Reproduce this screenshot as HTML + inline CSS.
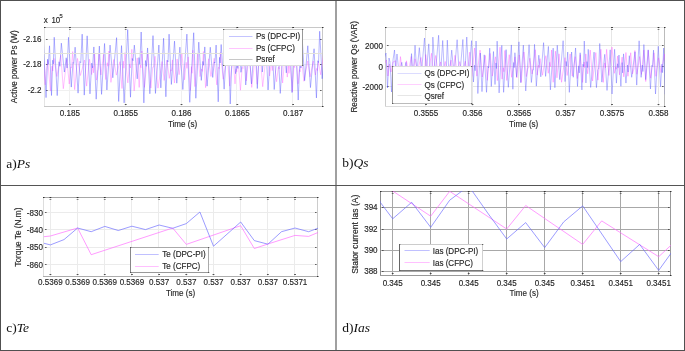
<!DOCTYPE html>
<html><head><meta charset="utf-8"><style>
html,body{margin:0;padding:0;background:#fff;}
body{width:685px;height:351px;overflow:hidden;}
svg{display:block;will-change:transform;}
text{font-family:"Liberation Sans",sans-serif;fill:#262626;stroke:#262626;stroke-width:0.15px;}
.cap{font-family:"Liberation Serif",serif;font-size:13.5px;fill:#111;stroke:none;}
</style></head><body>
<svg width="685" height="351" viewBox="0 0 685 351">
<rect x="0" y="0" width="685" height="351" fill="#fff"/>
<rect x="44" y="39" width="278" height="1" fill="#f0f0f0"/>
<rect x="44" y="64" width="278" height="1" fill="#f0f0f0"/>
<rect x="44" y="90" width="278" height="1" fill="#f0f0f0"/>
<rect x="69" y="27" width="1" height="79" fill="#f0f0f0"/>
<rect x="125" y="27" width="1" height="79" fill="#f0f0f0"/>
<rect x="181" y="27" width="1" height="79" fill="#f0f0f0"/>
<rect x="236" y="27" width="1" height="79" fill="#f0f0f0"/>
<rect x="292" y="27" width="1" height="79" fill="#f0f0f0"/>
<rect x="44" y="27" width="1" height="80" fill="#e4e4e4"/>
<rect x="322" y="27" width="1" height="80" fill="#c8c8c8"/>
<rect x="44" y="27" width="279" height="1" fill="#c8c8c8"/>
<rect x="44" y="106" width="279" height="1" fill="#c8c8c8"/>
<rect x="322" y="27" width="1.5" height="1" fill="#333"/>
<rect x="322" y="106" width="1.5" height="1" fill="#333"/>
<rect x="44" y="27" width="1.5" height="1" fill="#333"/>
<rect x="69.00" y="27" width="1.8" height="1" fill="#333"/>
<rect x="69.00" y="29" width="1.8" height="1" fill="#333" fill-opacity="0.6"/>
<rect x="69.00" y="104" width="1.8" height="1" fill="#333" fill-opacity="0.85"/>
<rect x="124.80" y="27" width="1.8" height="1" fill="#333"/>
<rect x="124.80" y="29" width="1.8" height="1" fill="#333" fill-opacity="0.6"/>
<rect x="124.80" y="104" width="1.8" height="1" fill="#333" fill-opacity="0.85"/>
<rect x="180.60" y="27" width="1.8" height="1" fill="#333"/>
<rect x="180.60" y="29" width="1.8" height="1" fill="#333" fill-opacity="0.6"/>
<rect x="180.60" y="104" width="1.8" height="1" fill="#333" fill-opacity="0.85"/>
<rect x="236.40" y="27" width="1.8" height="1" fill="#333"/>
<rect x="236.40" y="29" width="1.8" height="1" fill="#333" fill-opacity="0.6"/>
<rect x="236.40" y="104" width="1.8" height="1" fill="#333" fill-opacity="0.85"/>
<rect x="292.20" y="27" width="1.8" height="1" fill="#333"/>
<rect x="292.20" y="29" width="1.8" height="1" fill="#333" fill-opacity="0.6"/>
<rect x="292.20" y="104" width="1.8" height="1" fill="#333" fill-opacity="0.85"/>
<rect x="46" y="39" width="1.6" height="1" fill="#333" fill-opacity="0.75"/>
<rect x="320" y="39" width="1.6" height="1" fill="#333" fill-opacity="0.75"/>
<rect x="46" y="64" width="1.6" height="1" fill="#333" fill-opacity="0.75"/>
<rect x="320" y="64" width="1.6" height="1" fill="#333" fill-opacity="0.75"/>
<rect x="46" y="90" width="1.6" height="1" fill="#333" fill-opacity="0.75"/>
<rect x="320" y="90" width="1.6" height="1" fill="#333" fill-opacity="0.75"/>
<clipPath id="ca"><rect x="44" y="27" width="279" height="80"/></clipPath>
<polyline points="43.24,55.51 45.14,84.83 46.31,70.28 46.85,66.53 47.75,60.31 50.38,91.07 52.01,66.11 52.76,70.97 54.01,58.42 56.85,76.48 60.76,55.34 63.30,88.70 66.81,59.34 69.26,83.97 70.78,66.92 71.49,67.76 72.66,51.57 74.67,89.61 77.46,58.40 80.43,75.50 84.53,60.08 86.64,86.12 89.55,59.18 91.66,74.60 92.96,65.69 93.57,72.80 94.57,52.93 96.45,80.11 97.61,70.96 98.15,69.45 99.04,53.02 100.94,74.98 103.57,54.36 105.82,79.56 107.21,62.73 107.86,66.18 108.93,51.09 110.95,82.39 113.73,59.46 116.33,75.11 119.92,61.65 122.01,88.49 123.31,61.18 123.91,68.20 124.91,52.55 127.82,82.88 129.63,64.15 130.46,67.94 131.85,49.28 134.13,90.94 137.28,57.91 139.19,87.44 140.37,65.04 140.91,67.84 141.82,51.01 144.36,87.35 147.86,53.00 150.86,88.06 152.73,67.26 153.58,67.08 155.02,56.24 157.98,88.15 162.08,61.54 164.14,80.47 166.99,60.13 169.29,78.40 170.71,69.70 171.37,70.77 172.47,59.92 174.42,82.97 177.12,58.99 179.12,74.70 181.89,53.72 184.54,79.85 186.19,62.31 186.95,68.36 188.21,56.86 190.21,90.43 191.45,66.62 192.02,73.23 192.98,50.21 194.92,86.60 197.60,53.12 200.03,76.59 201.54,69.02 202.24,71.39 203.40,51.54 205.59,87.69 208.61,58.76 210.95,76.48 214.19,58.28 216.79,84.90 218.40,67.23 219.15,68.68 220.39,52.45 223.24,79.23 227.17,54.81 229.67,86.12 231.22,70.79 231.93,66.72 233.12,57.78 235.02,83.88 236.19,68.99 236.73,71.88 237.63,53.72 240.43,90.23 242.16,67.45 242.96,68.55 244.29,52.25 246.34,80.93 249.16,53.02 251.72,87.40 255.24,56.18 257.18,84.18 259.85,51.41 262.70,86.70 266.64,50.54 269.59,75.95 271.41,61.91 272.25,70.64 273.65,56.09 276.57,81.71 278.37,67.17 279.20,69.10 280.59,55.13 282.62,82.99 285.41,50.79 287.28,77.08 288.44,65.60 288.98,73.31 289.87,61.42 292.39,91.84 293.95,65.19 294.68,67.56 295.88,52.72 298.09,83.75 299.46,69.67 300.10,71.75 301.15,56.33 303.92,81.30 307.75,60.97 310.06,76.86 313.25,61.07 315.38,74.96 316.70,68.39 317.30,70.57 318.32,61.62 320.74,74.81 324.08,50.11 327.03,80.57" fill="none" stroke="#ff55ff" stroke-width="0.6" stroke-opacity="0.6" stroke-linejoin="round" clip-path="url(#ca)"/>
<polyline points="43.50,44.26 46.04,97.64 47.61,59.20 48.33,64.31 49.54,45.81 51.51,95.51 52.72,60.20 53.29,63.88 54.22,37.26 57.21,95.61 59.06,61.78 59.92,66.27 61.34,43.15 64.36,72.05 66.22,57.77 67.08,68.03 68.52,37.30 71.29,87.08 73.00,62.48 73.79,63.37 75.11,47.18 78.07,93.14 79.90,61.56 80.75,62.68 82.16,34.16 84.25,95.11 87.15,35.85 89.97,93.85 91.72,63.10 92.53,67.91 93.87,46.95 96.18,99.19 99.37,46.07 101.55,94.35 104.56,43.49 106.88,89.98 110.07,45.07 112.81,77.77 116.59,37.66 118.67,101.47 121.53,45.62 124.12,102.86 127.69,29.59 130.48,97.19 132.21,58.43 133.01,60.76 134.33,45.13 137.21,78.84 138.99,57.56 139.81,64.44 141.17,32.01 143.86,102.89 145.53,60.54 146.30,66.35 147.58,47.96 149.85,93.76 153.00,35.61 155.46,93.41 158.86,45.04 160.84,87.85 163.58,38.28 165.88,96.77 167.31,60.33 167.97,61.85 169.07,34.17 171.36,84.44 174.52,41.14 176.77,83.16 179.88,47.13 182.83,89.50 186.90,34.12 189.76,102.31 193.69,32.74 195.83,98.24 198.78,42.15 201.30,80.38 202.87,61.42 203.59,65.24 204.79,46.91 207.09,86.16 210.27,47.24 212.72,77.41 214.24,61.98 214.94,63.00 216.11,45.06 218.23,101.82 219.54,57.36 220.15,63.06 221.16,44.50 224.13,89.16 225.97,58.98 226.82,66.01 228.23,31.31 230.23,103.99 233.00,31.38 235.54,73.70 237.11,63.21 237.84,68.44 239.05,38.23 240.96,72.29 242.14,64.17 242.68,62.13 243.59,35.62 245.74,84.97 248.71,42.83 251.47,83.90 255.28,33.32 257.30,88.52 258.55,64.47 259.13,65.08 260.09,29.70 262.33,72.04 265.43,35.28 268.06,89.95 271.70,35.33 274.21,89.51 277.68,42.52 280.26,93.42 283.82,39.40 286.30,72.86 289.72,36.20 292.03,92.59 293.45,62.63 294.11,60.70 295.21,31.67 298.21,100.04 300.06,55.38 300.92,68.05 302.35,40.98 304.64,80.65 307.81,45.77 310.44,87.59 314.07,48.75 316.43,97.95 317.89,60.75 318.56,62.52 319.68,31.27 322.17,78.79 323.71,61.39 324.42,68.12 325.60,31.35 328.19,76.31" fill="none" stroke="#5555ff" stroke-width="0.6" stroke-opacity="0.72" stroke-linejoin="round" clip-path="url(#ca)"/>
<rect x="44" y="53" width="278" height="1" fill="#e2e2da"/>
<text transform="translate(41.5 41.8) scale(0.958 1)" text-anchor="end" font-size="8.4" >-2.16</text>
<text transform="translate(41.5 67.39999999999999) scale(0.958 1)" text-anchor="end" font-size="8.4" >-2.18</text>
<text transform="translate(41.5 93.1) scale(0.958 1)" text-anchor="end" font-size="8.4" >-2.2</text>
<text transform="translate(69.9 116.3) scale(0.958 1)" text-anchor="middle" font-size="8.4" >0.185</text>
<text transform="translate(125.7 116.3) scale(0.958 1)" text-anchor="middle" font-size="8.4" >0.1855</text>
<text transform="translate(181.5 116.3) scale(0.958 1)" text-anchor="middle" font-size="8.4" >0.186</text>
<text transform="translate(237.29999999999998 116.3) scale(0.958 1)" text-anchor="middle" font-size="8.4" >0.1865</text>
<text transform="translate(293.1 116.3) scale(0.958 1)" text-anchor="middle" font-size="8.4" >0.187</text>
<text transform="translate(182.5 126.5) scale(0.958 1)" text-anchor="middle" font-size="8.4" >Time (s)</text>
<text transform="translate(17 66.8) rotate(-90) scale(0.958 1)" text-anchor="middle" font-size="8.4">Active power Ps (W)</text>
<text transform="translate(43.8 23) scale(0.958 1)" text-anchor="start" font-size="8.4" >x</text>
<text transform="translate(51.4 23) scale(0.958 1)" text-anchor="start" font-size="8.2" >10</text>
<text transform="translate(59.6 17.6) scale(0.958 1)" text-anchor="start" font-size="6" >5</text>
<rect x="223" y="29" width="80" height="37" fill="#fff"/>
<rect x="223" y="29" width="1" height="37" fill="#e0e0e0"/>
<rect x="302" y="29" width="1" height="37" fill="#999999"/>
<rect x="223" y="29" width="80" height="1" fill="#cccccc"/>
<rect x="223" y="65" width="80" height="1" fill="#dddddd"/>
<rect x="223" y="29" width="1.3" height="1" fill="#444" fill-opacity="0.8"/>
<rect x="302" y="29" width="1.3" height="1" fill="#444" fill-opacity="0.8"/>
<rect x="223" y="65" width="1.3" height="1" fill="#444" fill-opacity="0.8"/>
<rect x="302" y="65" width="1.3" height="1" fill="#444" fill-opacity="0.8"/>
<line x1="229" y1="36.5" x2="252.5" y2="36.5" stroke="#c4c4ff" stroke-width="1"/>
<text transform="translate(256 39.3) scale(0.958 1)" text-anchor="start" font-size="8.4" >Ps (DPC-PI)</text>
<line x1="229" y1="48.5" x2="252.5" y2="48.5" stroke="#ffc4ff" stroke-width="1"/>
<text transform="translate(256 50.8) scale(0.958 1)" text-anchor="start" font-size="8.4" >Ps (CFPC)</text>
<line x1="229" y1="59.5" x2="252.5" y2="59.5" stroke="#c8c8c8" stroke-width="1"/>
<text transform="translate(256 62.3) scale(0.958 1)" text-anchor="start" font-size="8.4" >Psref</text>
<rect x="385" y="45" width="279" height="1" fill="#e6e6e6"/>
<rect x="385" y="66" width="279" height="1" fill="#e6e6e6"/>
<rect x="385" y="86" width="279" height="1" fill="#e6e6e6"/>
<rect x="425" y="27" width="1" height="79" fill="#e6e6e6"/>
<rect x="472" y="27" width="1" height="79" fill="#e6e6e6"/>
<rect x="518" y="27" width="1" height="79" fill="#e6e6e6"/>
<rect x="565" y="27" width="1" height="79" fill="#e6e6e6"/>
<rect x="611" y="27" width="1" height="79" fill="#e6e6e6"/>
<rect x="658" y="27" width="1" height="79" fill="#e6e6e6"/>
<rect x="385" y="27" width="1" height="80" fill="#cccccc"/>
<rect x="664" y="27" width="1" height="80" fill="#bbbbbb"/>
<rect x="385" y="27" width="280" height="1" fill="#e4e4e4"/>
<rect x="385" y="106" width="280" height="1" fill="#dcdcdc"/>
<rect x="664" y="27" width="1.5" height="1" fill="#333"/>
<rect x="664" y="106" width="1.5" height="1" fill="#333"/>
<rect x="385" y="27" width="1.5" height="1" fill="#333"/>
<rect x="425.10" y="27" width="1.8" height="1" fill="#333"/>
<rect x="425.10" y="29" width="1.8" height="1" fill="#333" fill-opacity="0.6"/>
<rect x="425.10" y="104" width="1.8" height="1" fill="#333" fill-opacity="0.85"/>
<rect x="471.60" y="27" width="1.8" height="1" fill="#333"/>
<rect x="471.60" y="29" width="1.8" height="1" fill="#333" fill-opacity="0.6"/>
<rect x="471.60" y="104" width="1.8" height="1" fill="#333" fill-opacity="0.85"/>
<rect x="518.10" y="27" width="1.8" height="1" fill="#333"/>
<rect x="518.10" y="29" width="1.8" height="1" fill="#333" fill-opacity="0.6"/>
<rect x="518.10" y="104" width="1.8" height="1" fill="#333" fill-opacity="0.85"/>
<rect x="564.60" y="27" width="1.8" height="1" fill="#333"/>
<rect x="564.60" y="29" width="1.8" height="1" fill="#333" fill-opacity="0.6"/>
<rect x="564.60" y="104" width="1.8" height="1" fill="#333" fill-opacity="0.85"/>
<rect x="611.10" y="27" width="1.8" height="1" fill="#333"/>
<rect x="611.10" y="29" width="1.8" height="1" fill="#333" fill-opacity="0.6"/>
<rect x="611.10" y="104" width="1.8" height="1" fill="#333" fill-opacity="0.85"/>
<rect x="657.60" y="27" width="1.8" height="1" fill="#333"/>
<rect x="657.60" y="29" width="1.8" height="1" fill="#333" fill-opacity="0.6"/>
<rect x="657.60" y="104" width="1.8" height="1" fill="#333" fill-opacity="0.85"/>
<rect x="387" y="45" width="1.6" height="1" fill="#333" fill-opacity="0.75"/>
<rect x="662" y="45" width="1.6" height="1" fill="#333" fill-opacity="0.75"/>
<rect x="387" y="66" width="1.6" height="1" fill="#333" fill-opacity="0.75"/>
<rect x="662" y="66" width="1.6" height="1" fill="#333" fill-opacity="0.75"/>
<rect x="387" y="86" width="1.6" height="1" fill="#333" fill-opacity="0.75"/>
<rect x="662" y="86" width="1.6" height="1" fill="#333" fill-opacity="0.75"/>
<clipPath id="cb"><rect x="385" y="27" width="280" height="80"/></clipPath>
<polyline points="383.00,66.00 386.50,60.00 388.00,76.00 389.50,64.00 391.00,72.00 393.00,62.00 395.62,60.83 397.63,76.51 398.88,68.21 399.46,71.88 400.42,56.62 402.93,75.90 404.48,66.79 405.20,71.80 406.40,60.83 408.47,71.78 411.32,56.47 412.88,74.38 415.04,58.79 417.52,70.59 420.94,57.44 422.94,75.86 424.17,66.84 424.74,70.48 425.69,54.56 428.14,74.41 431.52,53.25 433.30,72.97 435.76,55.46 437.84,71.28 440.70,61.98 442.62,73.35 445.26,61.45 447.69,77.43 451.04,60.13 452.72,76.33 455.03,55.34 457.01,73.40 459.74,61.63 462.08,72.89 465.32,61.19 467.19,74.42 469.77,52.12 471.79,76.47 474.59,48.00 476.89,76.13 480.06,50.15 482.27,77.01 485.31,55.45 487.31,80.39 490.07,53.42 492.34,76.12 495.47,56.82 497.39,80.67 500.03,47.21 502.07,79.12 503.33,67.67 503.92,71.76 504.89,50.50 506.72,80.47 509.25,54.71 511.66,77.27 515.00,56.88 516.77,77.86 519.22,54.94 521.17,82.47 523.87,51.98 526.37,76.55 527.91,67.95 528.63,67.59 529.81,58.27 532.08,73.98 535.22,49.70 537.23,75.13 538.48,65.36 539.05,67.55 540.01,58.62 542.46,75.20 545.84,55.71 548.25,73.25 549.75,62.31 550.44,66.67 551.59,49.97 553.20,82.27 555.42,51.18 556.94,77.79 559.03,53.84 561.55,82.25 565.02,57.61 567.17,75.49 570.13,53.95 572.26,75.97 575.19,56.66 577.32,78.55 580.27,54.68 582.60,82.43 584.05,62.01 584.72,67.55 585.83,53.93 587.68,73.78 590.24,50.13 592.57,81.00 595.79,52.61 597.92,80.12 600.86,49.25 603.28,82.40 604.78,62.96 605.47,67.73 606.62,49.39 608.88,75.48 612.00,47.08 614.35,73.31 615.80,67.12 616.47,69.23 617.59,56.06 619.49,74.89 622.12,57.11 623.72,76.85 625.93,52.52 627.94,76.26 630.71,52.74 632.45,73.99 633.52,70.00 634.02,69.01 634.84,50.51 636.88,74.23 639.69,56.57 641.45,74.41 643.87,50.07 645.72,81.54 648.28,50.28 650.66,78.17 652.13,67.57 652.81,66.79 653.94,52.81 655.91,76.32 658.63,57.91 661.08,72.54 664.48,54.07 666.50,73.67" fill="none" stroke="#ff55ff" stroke-width="0.6" stroke-opacity="0.68" stroke-linejoin="round" clip-path="url(#cb)"/>
<polyline points="383.00,62.00 386.00,53.00 387.50,88.00 389.00,58.00 390.00,62.00 391.50,92.00 393.00,60.00 394.50,50.00 395.50,68.00 397.00,54.00 399.07,73.32 401.78,62.33 403.53,75.11 405.95,62.29 408.29,76.47 409.73,69.95 410.40,72.54 411.52,53.63 413.00,79.90 415.04,45.27 416.85,72.85 419.33,47.67 421.50,72.09 424.50,38.02 426.30,73.30 428.78,43.86 430.49,77.09 431.55,70.33 432.04,66.64 432.86,37.10 435.28,75.15 438.62,35.27 440.33,77.79 442.71,40.51 444.64,79.58 445.84,67.41 446.40,66.80 447.32,40.16 449.17,78.90 451.73,50.12 454.00,75.47 457.13,39.73 459.54,78.58 462.87,39.53 464.50,81.32 466.75,37.05 468.78,75.62 471.58,40.66 473.45,82.03 474.62,65.20 475.15,70.74 476.05,41.04 477.85,93.55 480.34,53.00 481.98,91.64 484.23,54.82 486.53,92.30 487.96,66.27 488.61,67.94 489.71,48.13 491.29,86.51 493.48,51.54 495.02,84.50 495.97,62.95 496.41,68.56 497.14,41.15 499.10,92.90 501.80,45.33 503.61,92.32 506.11,49.62 508.32,87.29 511.37,44.95 512.86,89.25 513.78,62.49 514.20,67.60 514.91,52.75 516.60,76.93 518.95,41.82 520.79,82.64 523.33,45.11 525.74,90.92 529.07,44.69 531.36,82.49 532.78,69.71 533.44,69.79 534.53,44.39 536.32,86.16 538.80,55.19 540.80,76.82 543.57,42.67 545.60,76.38 548.40,46.43 550.40,89.86 553.16,48.13 554.88,87.69 557.27,45.24 559.73,79.63 563.12,40.71 565.04,81.58 566.23,61.47 566.77,66.13 567.69,52.05 569.33,92.36 571.60,52.01 573.27,77.25 575.57,47.97 577.50,86.43 578.70,65.88 579.25,72.92 580.16,52.78 581.89,89.92 582.96,64.24 583.46,66.70 584.28,41.03 585.93,82.94 586.96,61.60 587.43,67.61 588.22,49.32 590.67,87.43 594.05,52.12 596.44,87.62 597.92,69.54 598.60,68.97 599.74,43.49 601.84,82.13 604.73,54.33 607.03,90.44 610.19,49.79 612.04,94.00 614.60,49.30 616.43,83.10 617.57,63.77 618.10,67.72 618.97,55.00 620.89,86.29 622.08,62.56 622.62,72.89 623.54,53.86 625.95,83.09 627.45,65.10 628.14,72.01 629.30,55.69 631.69,77.29 635.01,51.82 636.73,85.12 639.12,40.80 641.11,77.35 642.35,65.04 642.92,71.56 643.87,44.59 645.68,79.61 648.18,49.82 650.44,88.96 651.83,65.41 652.48,66.50 653.56,50.13 655.53,93.99 658.26,46.30 660.54,86.78 661.94,64.17 662.59,72.65 663.68,48.00 665.29,94.24 667.53,48.43 669.88,85.00 671.33,66.14 672.00,67.87" fill="none" stroke="#5555ff" stroke-width="0.55" stroke-opacity="0.7" stroke-linejoin="round" clip-path="url(#cb)"/>
<text transform="translate(383 49.0) scale(0.958 1)" text-anchor="end" font-size="8.4" >2000</text>
<text transform="translate(383 69.5) scale(0.958 1)" text-anchor="end" font-size="8.4" >0</text>
<text transform="translate(383 90.2) scale(0.958 1)" text-anchor="end" font-size="8.4" >-2000</text>
<text transform="translate(426.0 116.3) scale(0.958 1)" text-anchor="middle" font-size="8.4" >0.3555</text>
<text transform="translate(472.5 116.3) scale(0.958 1)" text-anchor="middle" font-size="8.4" >0.356</text>
<text transform="translate(519.0 116.3) scale(0.958 1)" text-anchor="middle" font-size="8.4" >0.3565</text>
<text transform="translate(565.5 116.3) scale(0.958 1)" text-anchor="middle" font-size="8.4" >0.357</text>
<text transform="translate(612.0 116.3) scale(0.958 1)" text-anchor="middle" font-size="8.4" >0.3575</text>
<text transform="translate(658.5 116.3) scale(0.958 1)" text-anchor="middle" font-size="8.4" >0.358</text>
<text transform="translate(523.7 126.6) scale(0.958 1)" text-anchor="middle" font-size="8.4" >Time (s)</text>
<text transform="translate(356.7 66.8) rotate(-90) scale(0.958 1)" text-anchor="middle" font-size="8.4">Reactive power Qs (VAR)</text>
<rect x="392" y="66" width="80" height="38" fill="#fff"/>
<rect x="392" y="66" width="1" height="38" fill="#999999"/>
<rect x="471" y="66" width="1" height="38" fill="#e0e0e0"/>
<rect x="392" y="66" width="80" height="1" fill="#dddddd"/>
<rect x="392" y="103" width="80" height="1" fill="#bbbbbb"/>
<rect x="392" y="66" width="1.3" height="1" fill="#444" fill-opacity="0.8"/>
<rect x="471" y="66" width="1.3" height="1" fill="#444" fill-opacity="0.8"/>
<rect x="392" y="103" width="1.3" height="1" fill="#444" fill-opacity="0.8"/>
<rect x="471" y="103" width="1.3" height="1" fill="#444" fill-opacity="0.8"/>
<line x1="397.5" y1="73.5" x2="421.5" y2="73.5" stroke="#dcdcff" stroke-width="1"/>
<text transform="translate(424.4 76.2) scale(0.958 1)" text-anchor="start" font-size="8.4" >Qs (DPC-PI)</text>
<line x1="397.5" y1="84.5" x2="421.5" y2="84.5" stroke="#ffd0ff" stroke-width="1"/>
<text transform="translate(424.4 87.6) scale(0.958 1)" text-anchor="start" font-size="8.4" >Qs (CFPC)</text>
<line x1="397.5" y1="95.5" x2="421.5" y2="95.5" stroke="#e6e6e6" stroke-width="1"/>
<text transform="translate(424.4 98.6) scale(0.958 1)" text-anchor="start" font-size="8.4" >Qsref</text>
<rect x="43" y="212" width="274" height="1" fill="#ebebeb"/>
<rect x="43" y="229" width="274" height="1" fill="#ebebeb"/>
<rect x="43" y="247" width="274" height="1" fill="#ebebeb"/>
<rect x="43" y="264" width="274" height="1" fill="#ebebeb"/>
<rect x="50" y="197" width="1" height="79" fill="#ebebeb"/>
<rect x="77" y="197" width="1" height="79" fill="#ebebeb"/>
<rect x="104" y="197" width="1" height="79" fill="#ebebeb"/>
<rect x="131" y="197" width="1" height="79" fill="#ebebeb"/>
<rect x="158" y="197" width="1" height="79" fill="#ebebeb"/>
<rect x="186" y="197" width="1" height="79" fill="#ebebeb"/>
<rect x="213" y="197" width="1" height="79" fill="#ebebeb"/>
<rect x="240" y="197" width="1" height="79" fill="#ebebeb"/>
<rect x="267" y="197" width="1" height="79" fill="#ebebeb"/>
<rect x="294" y="197" width="1" height="79" fill="#ebebeb"/>
<rect x="43" y="197" width="1" height="80" fill="#dddddd"/>
<rect x="317" y="197" width="1" height="80" fill="#cccccc"/>
<rect x="43" y="197" width="275" height="1" fill="#a8a8a8"/>
<rect x="43" y="276" width="275" height="1" fill="#acacac"/>
<rect x="317" y="197" width="1.5" height="1" fill="#333"/>
<rect x="317" y="276" width="1.5" height="1" fill="#333"/>
<rect x="43" y="197" width="1.5" height="1" fill="#333"/>
<rect x="49.50" y="197" width="1.8" height="1" fill="#333"/>
<rect x="49.50" y="199" width="1.8" height="1" fill="#333" fill-opacity="0.6"/>
<rect x="49.50" y="274" width="1.8" height="1" fill="#333" fill-opacity="0.85"/>
<rect x="76.68" y="197" width="1.8" height="1" fill="#333"/>
<rect x="76.68" y="199" width="1.8" height="1" fill="#333" fill-opacity="0.6"/>
<rect x="76.68" y="274" width="1.8" height="1" fill="#333" fill-opacity="0.85"/>
<rect x="103.86" y="197" width="1.8" height="1" fill="#333"/>
<rect x="103.86" y="199" width="1.8" height="1" fill="#333" fill-opacity="0.6"/>
<rect x="103.86" y="274" width="1.8" height="1" fill="#333" fill-opacity="0.85"/>
<rect x="131.04" y="197" width="1.8" height="1" fill="#333"/>
<rect x="131.04" y="199" width="1.8" height="1" fill="#333" fill-opacity="0.6"/>
<rect x="131.04" y="274" width="1.8" height="1" fill="#333" fill-opacity="0.85"/>
<rect x="158.22" y="197" width="1.8" height="1" fill="#333"/>
<rect x="158.22" y="199" width="1.8" height="1" fill="#333" fill-opacity="0.6"/>
<rect x="158.22" y="274" width="1.8" height="1" fill="#333" fill-opacity="0.85"/>
<rect x="185.40" y="197" width="1.8" height="1" fill="#333"/>
<rect x="185.40" y="199" width="1.8" height="1" fill="#333" fill-opacity="0.6"/>
<rect x="185.40" y="274" width="1.8" height="1" fill="#333" fill-opacity="0.85"/>
<rect x="212.58" y="197" width="1.8" height="1" fill="#333"/>
<rect x="212.58" y="199" width="1.8" height="1" fill="#333" fill-opacity="0.6"/>
<rect x="212.58" y="274" width="1.8" height="1" fill="#333" fill-opacity="0.85"/>
<rect x="239.76" y="197" width="1.8" height="1" fill="#333"/>
<rect x="239.76" y="199" width="1.8" height="1" fill="#333" fill-opacity="0.6"/>
<rect x="239.76" y="274" width="1.8" height="1" fill="#333" fill-opacity="0.85"/>
<rect x="266.94" y="197" width="1.8" height="1" fill="#333"/>
<rect x="266.94" y="199" width="1.8" height="1" fill="#333" fill-opacity="0.6"/>
<rect x="266.94" y="274" width="1.8" height="1" fill="#333" fill-opacity="0.85"/>
<rect x="294.12" y="197" width="1.8" height="1" fill="#333"/>
<rect x="294.12" y="199" width="1.8" height="1" fill="#333" fill-opacity="0.6"/>
<rect x="294.12" y="274" width="1.8" height="1" fill="#333" fill-opacity="0.85"/>
<rect x="45" y="212" width="1.6" height="1" fill="#333" fill-opacity="0.75"/>
<rect x="315" y="212" width="1.6" height="1" fill="#333" fill-opacity="0.75"/>
<rect x="45" y="229" width="1.6" height="1" fill="#333" fill-opacity="0.75"/>
<rect x="315" y="229" width="1.6" height="1" fill="#333" fill-opacity="0.75"/>
<rect x="45" y="247" width="1.6" height="1" fill="#333" fill-opacity="0.75"/>
<rect x="315" y="247" width="1.6" height="1" fill="#333" fill-opacity="0.75"/>
<rect x="45" y="264" width="1.6" height="1" fill="#333" fill-opacity="0.75"/>
<rect x="315" y="264" width="1.6" height="1" fill="#333" fill-opacity="0.75"/>
<clipPath id="cc"><rect x="43" y="197" width="275" height="80"/></clipPath>
<polyline points="44.00,236.70 50.40,236.00 77.60,228.00 91.20,254.70 172.70,228.00 186.30,244.40 240.70,225.70 254.30,248.50 267.90,244.00 295.00,235.40 308.60,236.40 318.00,232.50 322.20,231.00" fill="none" stroke="#ff66ff" stroke-width="0.9" stroke-opacity="0.72" stroke-linejoin="round" clip-path="url(#cc)"/>
<polyline points="44.00,243.30 50.40,244.90 64.00,239.60 77.60,228.00 91.20,231.70 104.80,226.40 118.30,230.50 131.90,226.20 145.50,229.60 159.10,225.00 172.70,228.30 186.30,223.60 199.90,212.00 213.50,246.20 240.70,222.00 254.30,240.60 267.90,244.20 281.50,231.70 295.00,228.00 308.60,231.70 318.00,228.20 322.20,226.00" fill="none" stroke="#6666ff" stroke-width="0.9" stroke-opacity="0.72" stroke-linejoin="round" clip-path="url(#cc)"/>
<text transform="translate(42.9 215.5) scale(0.958 1)" text-anchor="end" font-size="8.4" >-830</text>
<text transform="translate(42.9 232.79999999999998) scale(0.958 1)" text-anchor="end" font-size="8.4" >-840</text>
<text transform="translate(42.9 250.29999999999998) scale(0.958 1)" text-anchor="end" font-size="8.4" >-850</text>
<text transform="translate(42.9 268.0) scale(0.958 1)" text-anchor="end" font-size="8.4" >-860</text>
<text transform="translate(50.4 285) scale(0.958 1)" text-anchor="middle" font-size="8.4" >0.5369</text>
<text transform="translate(77.58 285) scale(0.958 1)" text-anchor="middle" font-size="8.4" >0.5369</text>
<text transform="translate(104.75999999999999 285) scale(0.958 1)" text-anchor="middle" font-size="8.4" >0.5369</text>
<text transform="translate(131.94 285) scale(0.958 1)" text-anchor="middle" font-size="8.4" >0.5369</text>
<text transform="translate(159.12 285) scale(0.958 1)" text-anchor="middle" font-size="8.4" >0.537</text>
<text transform="translate(186.3 285) scale(0.958 1)" text-anchor="middle" font-size="8.4" >0.537</text>
<text transform="translate(213.48 285) scale(0.958 1)" text-anchor="middle" font-size="8.4" >0.537</text>
<text transform="translate(240.66 285) scale(0.958 1)" text-anchor="middle" font-size="8.4" >0.537</text>
<text transform="translate(267.84 285) scale(0.958 1)" text-anchor="middle" font-size="8.4" >0.537</text>
<text transform="translate(295.02 285) scale(0.958 1)" text-anchor="middle" font-size="8.4" >0.5371</text>
<text transform="translate(180.5 295.5) scale(0.958 1)" text-anchor="middle" font-size="8.4" >Time (s)</text>
<text transform="translate(20.8 237.1) rotate(-90) scale(0.986 1)" text-anchor="middle" font-size="8.4">Torque Te (N.m)</text>
<rect x="130" y="247" width="79" height="26" fill="#fff"/>
<rect x="130" y="247" width="1" height="26" fill="#888888"/>
<rect x="208" y="247" width="1" height="26" fill="#aaaaaa"/>
<rect x="130" y="247" width="79" height="1" fill="#aaaaaa"/>
<rect x="130" y="272" width="79" height="1" fill="#999999"/>
<rect x="130" y="247" width="1.3" height="1" fill="#444" fill-opacity="0.8"/>
<rect x="208" y="247" width="1.3" height="1" fill="#444" fill-opacity="0.8"/>
<rect x="130" y="272" width="1.3" height="1" fill="#444" fill-opacity="0.8"/>
<rect x="208" y="272" width="1.3" height="1" fill="#444" fill-opacity="0.8"/>
<line x1="135" y1="254.5" x2="158.7" y2="254.5" stroke="#c0c0ff" stroke-width="1"/>
<text transform="translate(162.3 257.4) scale(0.958 1)" text-anchor="start" font-size="8.4" >Te (DPC-PI)</text>
<line x1="135" y1="266.5" x2="158.7" y2="266.5" stroke="#ffc0ff" stroke-width="1"/>
<text transform="translate(162.3 268.8) scale(0.958 1)" text-anchor="start" font-size="8.4" >Te (CFPC)</text>
<rect x="380" y="207" width="290" height="1" fill="#a8a8a8"/>
<rect x="380" y="229" width="290" height="1" fill="#a8a8a8"/>
<rect x="380" y="250" width="290" height="1" fill="#a8a8a8"/>
<rect x="380" y="271" width="290" height="1" fill="#a8a8a8"/>
<rect x="392" y="191" width="1" height="84" fill="#a8a8a8"/>
<rect x="430" y="191" width="1" height="84" fill="#a8a8a8"/>
<rect x="468" y="191" width="1" height="84" fill="#a8a8a8"/>
<rect x="506" y="191" width="1" height="84" fill="#a8a8a8"/>
<rect x="544" y="191" width="1" height="84" fill="#a8a8a8"/>
<rect x="582" y="191" width="1" height="84" fill="#a8a8a8"/>
<rect x="620" y="191" width="1" height="84" fill="#a8a8a8"/>
<rect x="658" y="191" width="1" height="84" fill="#a8a8a8"/>
<rect x="380" y="191" width="1" height="85" fill="#8c8c8c"/>
<rect x="670" y="191" width="1" height="85" fill="#999999"/>
<rect x="380" y="191" width="291" height="1" fill="#999999"/>
<rect x="380" y="275" width="291" height="1" fill="#999999"/>
<rect x="670" y="191" width="1.5" height="1" fill="#333"/>
<rect x="670" y="275" width="1.5" height="1" fill="#333"/>
<rect x="380" y="191" width="1.5" height="1" fill="#333"/>
<rect x="391.80" y="191" width="1.8" height="1" fill="#333"/>
<rect x="391.80" y="193" width="1.8" height="1" fill="#333" fill-opacity="0.6"/>
<rect x="391.80" y="273" width="1.8" height="1" fill="#333" fill-opacity="0.85"/>
<rect x="429.80" y="191" width="1.8" height="1" fill="#333"/>
<rect x="429.80" y="193" width="1.8" height="1" fill="#333" fill-opacity="0.6"/>
<rect x="429.80" y="273" width="1.8" height="1" fill="#333" fill-opacity="0.85"/>
<rect x="467.80" y="191" width="1.8" height="1" fill="#333"/>
<rect x="467.80" y="193" width="1.8" height="1" fill="#333" fill-opacity="0.6"/>
<rect x="467.80" y="273" width="1.8" height="1" fill="#333" fill-opacity="0.85"/>
<rect x="505.80" y="191" width="1.8" height="1" fill="#333"/>
<rect x="505.80" y="193" width="1.8" height="1" fill="#333" fill-opacity="0.6"/>
<rect x="505.80" y="273" width="1.8" height="1" fill="#333" fill-opacity="0.85"/>
<rect x="543.80" y="191" width="1.8" height="1" fill="#333"/>
<rect x="543.80" y="193" width="1.8" height="1" fill="#333" fill-opacity="0.6"/>
<rect x="543.80" y="273" width="1.8" height="1" fill="#333" fill-opacity="0.85"/>
<rect x="581.80" y="191" width="1.8" height="1" fill="#333"/>
<rect x="581.80" y="193" width="1.8" height="1" fill="#333" fill-opacity="0.6"/>
<rect x="581.80" y="273" width="1.8" height="1" fill="#333" fill-opacity="0.85"/>
<rect x="619.80" y="191" width="1.8" height="1" fill="#333"/>
<rect x="619.80" y="193" width="1.8" height="1" fill="#333" fill-opacity="0.6"/>
<rect x="619.80" y="273" width="1.8" height="1" fill="#333" fill-opacity="0.85"/>
<rect x="657.80" y="191" width="1.8" height="1" fill="#333"/>
<rect x="657.80" y="193" width="1.8" height="1" fill="#333" fill-opacity="0.6"/>
<rect x="657.80" y="273" width="1.8" height="1" fill="#333" fill-opacity="0.85"/>
<rect x="382" y="207" width="1.6" height="1" fill="#333" fill-opacity="0.75"/>
<rect x="668" y="207" width="1.6" height="1" fill="#333" fill-opacity="0.75"/>
<rect x="382" y="229" width="1.6" height="1" fill="#333" fill-opacity="0.75"/>
<rect x="668" y="229" width="1.6" height="1" fill="#333" fill-opacity="0.75"/>
<rect x="382" y="250" width="1.6" height="1" fill="#333" fill-opacity="0.75"/>
<rect x="668" y="250" width="1.6" height="1" fill="#333" fill-opacity="0.75"/>
<rect x="382" y="271" width="1.6" height="1" fill="#333" fill-opacity="0.75"/>
<rect x="668" y="271" width="1.6" height="1" fill="#333" fill-opacity="0.75"/>
<clipPath id="cd"><rect x="380" y="191" width="291" height="85"/></clipPath>
<polyline points="373.70,178.00 392.70,191.00 430.70,216.20 449.70,191.30 506.70,229.00 525.70,205.50 582.70,244.40 601.70,220.90 658.70,256.70 677.70,239.00" fill="none" stroke="#ff66ff" stroke-width="0.9" stroke-opacity="0.72" stroke-linejoin="round" clip-path="url(#cd)"/>
<polyline points="373.70,186.00 380.40,202.50 392.70,218.80 411.70,202.30 430.70,227.30 449.70,200.20 468.70,186.00 487.70,213.00 506.70,239.00 525.70,222.60 544.70,247.60 563.70,221.90 582.70,205.90 620.70,261.60 639.70,244.40 658.70,270.40 677.70,244.00" fill="none" stroke="#6666ff" stroke-width="0.9" stroke-opacity="0.72" stroke-linejoin="round" clip-path="url(#cd)"/>
<text transform="translate(377.6 210.20000000000002) scale(0.958 1)" text-anchor="end" font-size="8.4" >394</text>
<text transform="translate(377.6 231.8) scale(0.958 1)" text-anchor="end" font-size="8.4" >392</text>
<text transform="translate(377.6 253.10000000000002) scale(0.958 1)" text-anchor="end" font-size="8.4" >390</text>
<text transform="translate(377.6 274.3) scale(0.958 1)" text-anchor="end" font-size="8.4" >388</text>
<text transform="translate(392.7 285.6) scale(0.958 1)" text-anchor="middle" font-size="8.4" >0.345</text>
<text transform="translate(430.7 285.6) scale(0.958 1)" text-anchor="middle" font-size="8.4" >0.345</text>
<text transform="translate(468.7 285.6) scale(0.958 1)" text-anchor="middle" font-size="8.4" >0.345</text>
<text transform="translate(506.7 285.6) scale(0.958 1)" text-anchor="middle" font-size="8.4" >0.345</text>
<text transform="translate(544.7 285.6) scale(0.958 1)" text-anchor="middle" font-size="8.4" >0.345</text>
<text transform="translate(582.7 285.6) scale(0.958 1)" text-anchor="middle" font-size="8.4" >0.3451</text>
<text transform="translate(620.7 285.6) scale(0.958 1)" text-anchor="middle" font-size="8.4" >0.3451</text>
<text transform="translate(658.7 285.6) scale(0.958 1)" text-anchor="middle" font-size="8.4" >0.3451</text>
<text transform="translate(524 296) scale(0.958 1)" text-anchor="middle" font-size="8.4" >Time (s)</text>
<text transform="translate(358 234.3) rotate(-90) scale(0.97 1)" text-anchor="middle" font-size="8.8">Stator current Ias (A)</text>
<rect x="399" y="244" width="84" height="27" fill="#fff"/>
<rect x="399" y="244" width="1" height="27" fill="#666666"/>
<rect x="482" y="244" width="1" height="27" fill="#d0d0d0"/>
<rect x="399" y="244" width="84" height="1" fill="#cccccc"/>
<rect x="399" y="270" width="84" height="1" fill="#777777"/>
<rect x="399" y="244" width="1.3" height="1" fill="#444" fill-opacity="0.8"/>
<rect x="482" y="244" width="1.3" height="1" fill="#444" fill-opacity="0.8"/>
<rect x="399" y="270" width="1.3" height="1" fill="#444" fill-opacity="0.8"/>
<rect x="482" y="270" width="1.3" height="1" fill="#444" fill-opacity="0.8"/>
<line x1="404.5" y1="250.5" x2="429.7" y2="250.5" stroke="#c0c0ff" stroke-width="1"/>
<text transform="translate(432.7 253.60000000000002) scale(0.958 1)" text-anchor="start" font-size="8.4" >Ias (DPC-PI)</text>
<line x1="404.5" y1="262.5" x2="429.7" y2="262.5" stroke="#ffc0ff" stroke-width="1"/>
<text transform="translate(432.7 265.6) scale(0.958 1)" text-anchor="start" font-size="8.4" >Ias (CFPC)</text>
<rect x="335" y="0" width="2" height="351" fill="#a0a0a0"/>
<rect x="0" y="185" width="685" height="1" fill="#555555"/>
<rect x="0" y="0" width="685" height="1" fill="#505050"/>
<rect x="0" y="350" width="685" height="1" fill="#505050"/>
<rect x="0" y="0" width="1" height="351" fill="#505050"/>
<rect x="684" y="0" width="1" height="351" fill="#505050"/>
<text x="6.2" y="167.5" class="cap">a)<tspan font-style="italic">Ps</tspan></text>
<text x="342.2" y="167.2" class="cap">b)<tspan font-style="italic">Qs</tspan></text>
<text x="6.2" y="332.2" class="cap">c)<tspan font-style="italic">Te</tspan></text>
<text x="342.2" y="332.2" class="cap">d)<tspan font-style="italic">Ias</tspan></text>
</svg>
</body></html>
